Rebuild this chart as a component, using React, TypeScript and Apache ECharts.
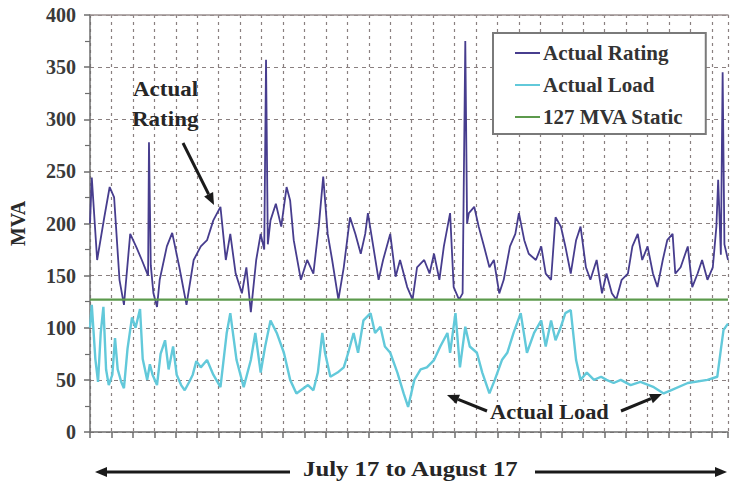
import React, { useEffect, useRef } from "react";
import * as echarts from "echarts";

// Hours since July 17, 00:00 (time axis), MVA values
const ratingHours = [0,2,8,16,22,27,33,38,45,52,58,65,66,68,71,75,78,86,92,100,108,116,124,131,138,146,152,157,163,170,175,180,186,191,195,197,199,202,208,214,220,224,228,236,243,250,256,261,266,271,278,284,291,297,303,308,311,317,323,328,336,342,347,355,361,366,374,380,385,391,396,403,407,413,417,420,422,424,430,435,441,447,452,458,463,470,476,480,486,491,499,505,510,516,521,527,532,538,544,549,555,560,567,573,578,584,589,595,602,607,613,618,624,630,635,641,646,652,655,661,669,674,680,685,691,697,701,703,706,708,710,714];
const ratingMVA = [200,244,165,206,235,225,146,122,190,177,165,150,278,160,133,120,146,178,191,158,122,165,178,184,203,216,165,190,152,133,158,115,165,190,175,357,180,203,219,197,235,222,184,146,165,152,197,245,190,165,127,158,206,190,171,190,210,178,146,165,190,149,165,139,127,158,165,152,171,146,178,210,139,127,133,375,200,210,216,197,178,158,165,133,146,178,190,210,184,171,165,178,152,146,206,197,178,152,184,197,158,146,165,133,152,133,127,146,152,178,190,165,178,152,139,165,184,190,152,158,178,139,152,165,146,158,197,242,170,345,180,165];

const loadHours = [0,2,6,9,12,15,18,21,25,28,31,35,38,42,47,51,56,59,64,67,70,75,79,84,88,93,97,102,106,111,115,119,124,131,138,146,153,157,164,172,180,185,191,196,202,209,217,224,231,239,244,250,255,260,263,269,277,284,289,295,300,306,314,319,325,330,336,344,351,356,363,370,377,385,392,400,403,409,414,420,425,433,439,447,453,461,467,474,482,489,497,505,510,516,521,527,532,538,544,549,556,564,572,578,586,594,605,616,631,642,650,669,691,702,706,709,714];
const loadMVA = [100,122,70,48,95,120,60,45,55,90,60,48,42,80,110,100,118,70,50,65,55,45,75,88,60,82,55,45,40,48,55,68,62,69,55,43,95,114,69,43,69,95,57,82,107,95,76,50,37,42,45,40,57,95,76,53,57,62,76,95,76,107,114,95,101,82,76,57,37,24,50,60,62,69,82,95,76,114,62,101,82,76,57,37,50,69,76,95,114,76,95,107,82,107,88,101,114,117,69,50,57,50,53,50,47,50,45,48,43,37,40,47,50,53,79,98,104];

const staticMVA = 127;
const periodHours = [0, 714];
const seriesNames = ["Actual Rating", "Actual Load", "127 MVA Static"];
const periodLabel = "July 17 to August 17";
const yMin = 0;
const yMax = 400;
const yStep = 50;
const hoursPerDay = 24;

const SERIF = "'Liberation Serif', 'DejaVu Serif', serif";
const INK = "#1a1a1a";

export default function App() {
  const ref = useRef<HTMLDivElement>(null);
  useEffect(() => {
    const chart = echarts.init(ref.current!, null, { renderer: "svg" });
    const gridColor = "#8a8080";
    const arrow = (x1: number, y1: number, x2: number, y2: number) => {
      const dx = x2 - x1, dy = y2 - y1;
      const len = Math.sqrt(dx * dx + dy * dy);
      const ux = dx / len, uy = dy / len;
      const hl = 12, hw = 5;
      const bx = x2 - ux * hl, by = y2 - uy * hl;
      return [
        { type: "line", shape: { x1, y1, x2: bx, y2: by }, style: { stroke: INK, lineWidth: 3 }, z: 11 },
        {
          type: "polygon",
          shape: { points: [[x2, y2], [bx - uy * hw, by + ux * hw], [bx + uy * hw, by - ux * hw]] },
          style: { fill: INK },
          z: 11,
        },
      ];
    };
    const label = (text: string, x: number, y: number, size: number, sx: number, bg?: string) => ({
      type: "text",
      x,
      y,
      scaleX: sx,
      z: 10,
      style: {
        text,
        font: `bold ${size}px ${SERIF}`,
        fill: "#262626",
        textVerticalAlign: "middle",
        backgroundColor: bg,
      },
    });
    chart.setOption({
      animation: false,
      backgroundColor: "#ffffff",
      grid: { left: 88, right: 2, top: 15, bottom: 50 },
      legend: {
        orient: "vertical",
        left: 493,
        top: 33,
        padding: [9, 22, 6, 22],
        itemGap: 10,
        itemWidth: 25,
        itemHeight: 2,
        icon: "rect",
        borderColor: "#7a7a7a",
        borderWidth: 2,
        backgroundColor: "#ffffff",
        data: seriesNames,
        textStyle: { fontFamily: SERIF, fontWeight: "bold", fontSize: 21, color: "#333", lineHeight: 22, padding: [0, 0, 0, -2] },
      },
      xAxis: [
        {
          type: "value",
          min: periodHours[0],
          max: periodHours[1],
          interval: hoursPerDay,
          axisLabel: { show: false },
          axisLine: { show: true, onZero: false, lineStyle: { color: "#6e6e6e", width: 1.5 } },
          axisTick: { show: true, length: 6, lineStyle: { color: "#6e6e6e", width: 1.5 } },
          splitLine: { show: true, lineStyle: { color: gridColor, type: [3, 4], width: 1.2 } },
        },
        {
          type: "value",
          position: "top",
          min: periodHours[0],
          max: periodHours[1],
          interval: hoursPerDay,
          axisLabel: { show: false },
          axisTick: { show: false },
          splitLine: { show: false },
          axisLine: { show: true, onZero: false, lineStyle: { color: "#9a9090", width: 1.5 } },
        },
      ],
      yAxis: {
        type: "value",
        min: yMin,
        max: yMax,
        interval: yStep,
        name: "MVA",
        nameLocation: "middle",
        nameRotate: 90,
        nameGap: 62,
        nameTextStyle: { fontFamily: SERIF, fontWeight: "bold", fontSize: 20, color: "#2a2a2a" },
        axisLine: { show: true, lineStyle: { color: "#6e6e6e", width: 1.5 } },
        axisTick: { show: true, length: 6, lineStyle: { color: "#6e6e6e", width: 1.5 } },
        minorTick: { show: true, splitNumber: 2, length: 5, lineStyle: { color: "#6e6e6e", width: 1.2 } },
        axisLabel: { fontFamily: SERIF, fontWeight: "bold", fontSize: 20, color: "#3a3a3a", margin: 14 },
        splitLine: { show: true, lineStyle: { color: gridColor, type: [4, 4], width: 1.2 } },
      },
      series: [
        {
          name: seriesNames[0],
          type: "line",
          data: ratingHours.map((h, i) => [h, ratingMVA[i]]),
          showSymbol: false,
          symbol: "none",
          color: "#473d8e",
          lineStyle: { color: "#473d8e", width: 1.8 },
          z: 3,
        },
        {
          name: seriesNames[1],
          type: "line",
          data: loadHours.map((h, i) => [h, loadMVA[i]]),
          showSymbol: false,
          symbol: "none",
          color: "#62c9da",
          lineStyle: { color: "#62c9da", width: 2.4 },
          z: 3,
        },
        {
          name: seriesNames[2],
          type: "line",
          data: periodHours.map((h) => [h, staticMVA]),
          showSymbol: false,
          symbol: "none",
          color: "#5c9a4c",
          lineStyle: { color: "#5c9a4c", width: 2.2 },
          z: 4,
        },
      ],
      graphic: [
        label("Actual", 133, 90, 20, 1.15),
        label("Rating", 132, 120, 20, 1.15),
        ...arrow(183, 143, 214, 205),
        label("Actual Load", 490, 412, 20, 1.12, "#ffffff"),
        ...arrow(487, 411, 447, 395),
        ...arrow(621, 411, 662, 394),
        label(periodLabel, 303, 469, 21, 1.18),
        ...arrow(290, 472, 95, 472),
        ...arrow(535, 472, 727, 472),
      ],
    });
    return () => chart.dispose();
  }, []);
  return <div ref={ref} style={{ position: "fixed", left: 0, top: 0, width: 730, height: 482 }} />;
}
